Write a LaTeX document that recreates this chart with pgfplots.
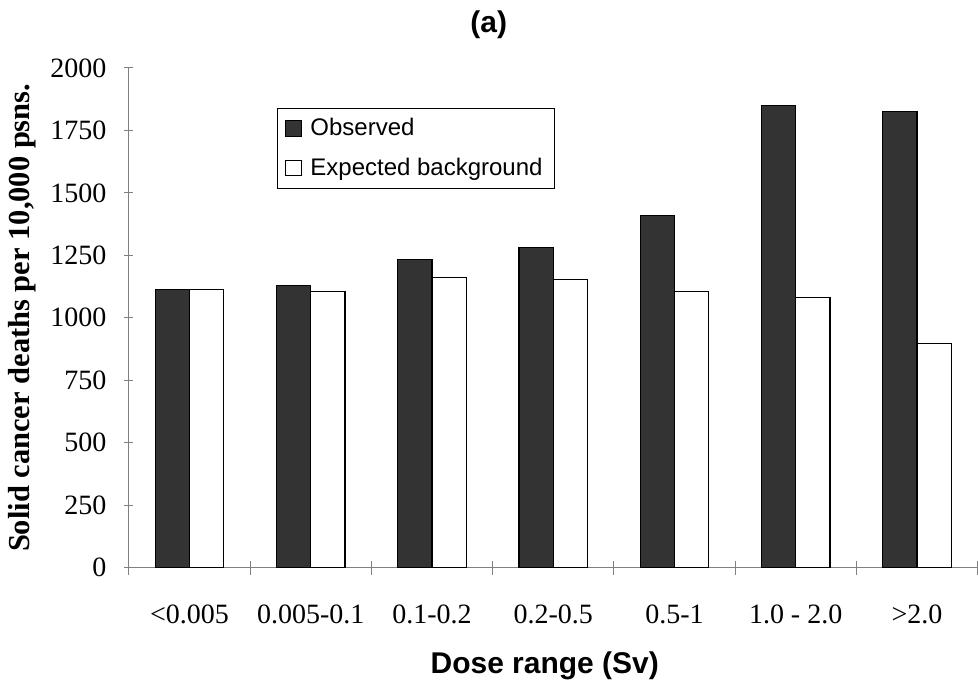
\documentclass[border=0pt]{standalone}
\usepackage{pgfplots}
\pgfplotsset{compat=1.18}
\usepackage{fontspec}
\setmainfont{Liberation Serif}
\newfontfamily\arialfont{Liberation Sans}
\definecolor{obsfill}{HTML}{333333}
\definecolor{axisgray}{HTML}{808080}

\begin{document}
\begin{tikzpicture}
\begin{axis}[
  scale only axis,
  width=424.5pt, height=250pt,
  clip=false,
  ybar=0pt, bar width=17.15pt,
  ymin=0, ymax=2000,
  ytick={0,250,...,2000},
  xmin=-0.5, xmax=6.5,
  xtick={0,...,6},
  xticklabels={<0.005, 0.005-0.1, 0.1-0.2, 0.2-0.5, 0.5-1, 1.0 - 2.0, >2.0},
  minor xtick={-0.5,0.5,...,6.5},
  major x tick style={draw=none},
  minor tick length=7pt,
  major tick length=4.5pt,
  tick align=outside,
  axis x line=bottom, axis y line=left,
  axis line style={-, draw=axisgray, line width=0.5pt},
  every tick/.style={draw=axisgray, line width=0.5pt},
  /pgf/number format/.cd, 1000 sep={}, assume math mode=true, /pgfplots/.cd,
  tick label style={font=\fontsize{14}{16}\selectfont, black},
  xticklabel shift=13pt,
  yticklabel shift=5.5pt,
  title={\arialfont\bfseries (a)},
  every axis title shift=0pt,
  title style={at={(axis description cs:0.424,1.086)}, anchor=center, inner sep=0pt,
    font=\fontsize{15}{17}\selectfont},
  xlabel={\arialfont\bfseries Dose range (Sv)},
  xlabel style={at={(axis description cs:0.49,-0.196)}, anchor=center, inner sep=0pt,
    font=\fontsize{15}{17}\selectfont},
  ylabel={\bfseries Solid cancer deaths per 10,000 psns.},
  ylabel style={at={(axis description cs:-0.126,0.5)}, anchor=center, inner sep=0pt,
    font=\fontsize{15.25}{17}\selectfont},
  legend style={at={(0.1743,0.92)}, anchor=north west, draw=black, line width=0.5pt,
    font=\arialfont\fontsize{12}{14}\selectfont, row sep=5.5pt, inner xsep=4pt, inner ysep=3pt},
  legend cell align=left,
  legend image code/.code={
    \draw[#1, line width=0.5pt] (0pt,-3.9pt) rectangle (7.8pt,3.9pt);
    \path (10pt,0pt);
  },
]
\addplot[fill=obsfill, draw=black, line width=0.6pt] coordinates {
  (0,1112) (1,1128) (2,1232) (3,1281) (4,1409) (5,1849) (6,1825)
};
\addlegendentry{Observed}
\addplot[fill=white, draw=black, line width=0.6pt] coordinates {
  (0,1112) (1,1105) (2,1161) (3,1152) (4,1105) (5,1080) (6,896)
};
\addlegendentry{Expected background}
% invisible frame fixing the page to the reference proportions
\path (axis description cs:-0.152,-0.242) rectangle (axis description cs:1.0,1.136);
\end{axis}
\end{tikzpicture}
\end{document}
